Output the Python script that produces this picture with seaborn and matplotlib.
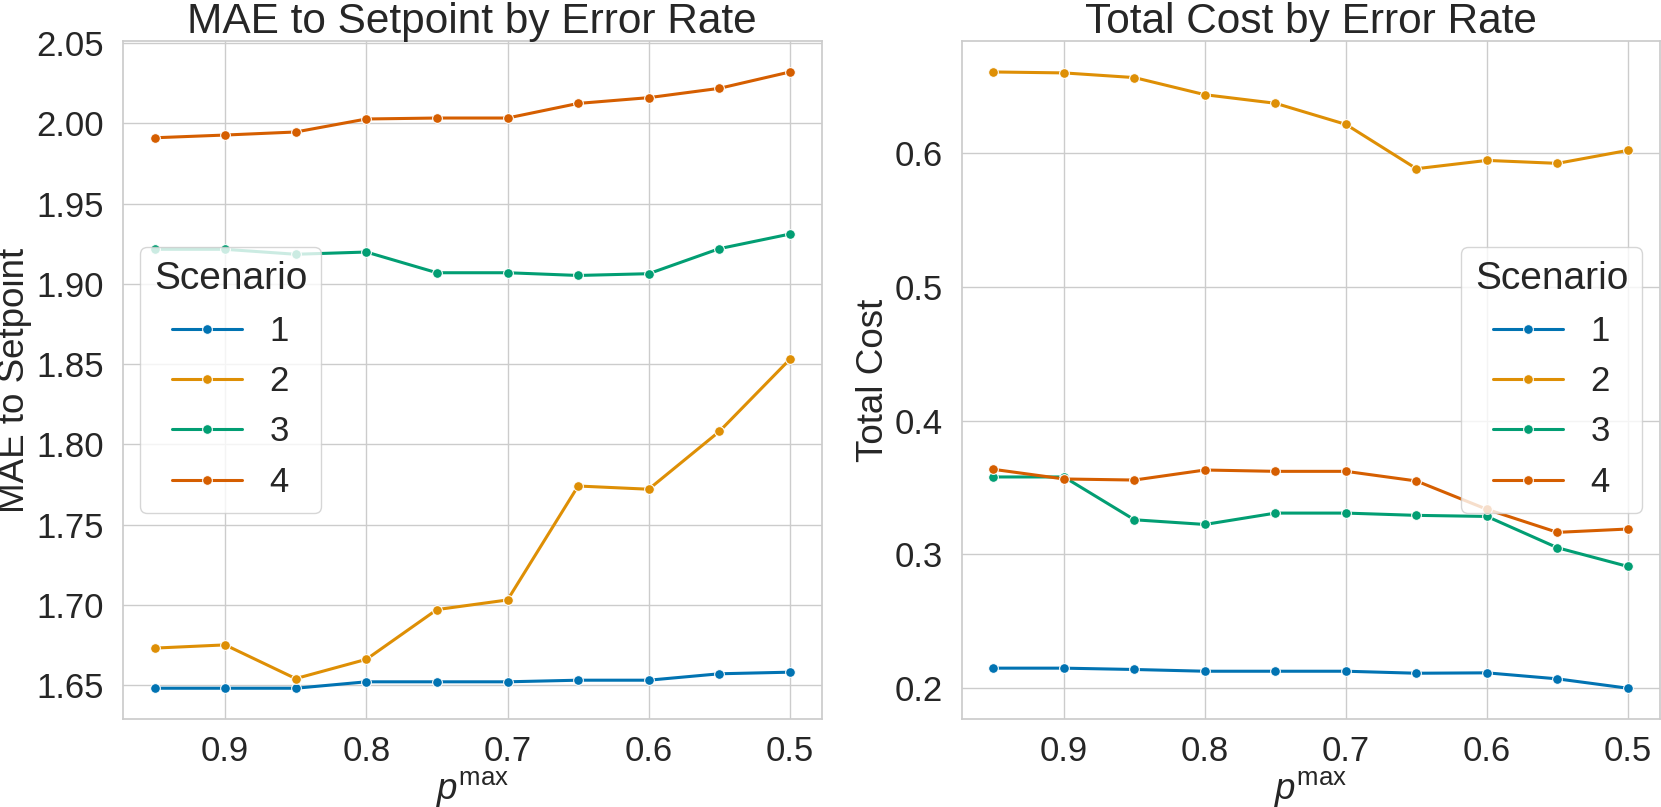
import pandas as pd
import seaborn as sns
import matplotlib.pyplot as plt

p_max = [0.95, 0.9, 0.85, 0.8, 0.75, 0.7, 0.65, 0.6, 0.55, 0.5]
scenarios = [1, 2, 3, 4]

mae_s1 = [1.648, 1.648, 1.648, 1.652, 1.652, 1.652, 1.653, 1.653, 1.657, 1.658]
mae_s2 = [1.673, 1.675, 1.654, 1.666, 1.697, 1.703, 1.774, 1.772, 1.808, 1.853]
mae_s3 = [1.9215, 1.9215, 1.9184, 1.9198, 1.9069, 1.9069, 1.9052, 1.9063, 1.9219, 1.931]
mae_s4 = [1.991, 1.9927, 1.9946, 2.0027, 2.0033, 2.0033, 2.0124, 2.016, 2.0218, 2.032]

cost_s1 = [0.215, 0.215, 0.214, 0.2127, 0.2127, 0.2127, 0.2112, 0.2115, 0.207, 0.200]
cost_s2 = [0.6606, 0.6599, 0.6564, 0.6436, 0.6372, 0.6214, 0.5883, 0.5945, 0.5923, 0.602]
cost_s3 = [0.3579, 0.3579, 0.3259, 0.3224, 0.3309, 0.3309, 0.3292, 0.3284, 0.305, 0.291]
cost_s4 = [0.3636, 0.3564, 0.3556, 0.3631, 0.3621, 0.3621, 0.3549, 0.3337, 0.3165, 0.319]

rows = []
for sc, mae, cost in zip(scenarios, [mae_s1, mae_s2, mae_s3, mae_s4],
                         [cost_s1, cost_s2, cost_s3, cost_s4]):
    for p, m, c in zip(p_max, mae, cost):
        rows.append({'p_max': p, 'Scenario': str(sc), 'MAE': m, 'Cost': c})
df = pd.DataFrame(rows)

sns.set_theme(style='whitegrid', palette='colorblind')
plt.rcParams['font.family'] = ['Liberation Sans', 'DejaVu Sans']
plt.rcParams['mathtext.fontset'] = 'custom'
plt.rcParams['mathtext.rm'] = 'Liberation Sans'
plt.rcParams['mathtext.it'] = 'Liberation Sans:italic'

fig = plt.figure(figsize=(16.61, 8.07), dpi=100)
ax1 = fig.add_axes([0.0739, 0.109, 0.4208, 0.840])
ax2 = fig.add_axes([0.579, 0.109, 0.4202, 0.840])

def draw(ax, col, title, ylabel):
    sns.lineplot(data=df, x='p_max', y=col, hue='Scenario', marker='o',
                 markersize=7, linewidth=2.2, ax=ax)
    ax.invert_xaxis()
    ax.set_title(title, fontsize=30.5)
    ax.set_xlabel(r'$p^{\mathrm{max}}$', fontsize=26.5, labelpad=1)
    ax.set_ylabel(ylabel, fontsize=26.5, labelpad=3)
    ax.tick_params(axis='x', labelsize=25, pad=5.5)
    ax.tick_params(axis='y', labelsize=25, pad=7.5)

draw(ax1, 'MAE', 'MAE to Setpoint by Error Rate', 'MAE to Setpoint')
ax1.legend(title='Scenario', fontsize=25, title_fontsize=28, loc='center left')

draw(ax2, 'Cost', 'Total Cost by Error Rate', 'Total Cost')
ax2.legend(title='Scenario', fontsize=25, title_fontsize=28, loc='center right')

plt.savefig('out.png', dpi=100)
